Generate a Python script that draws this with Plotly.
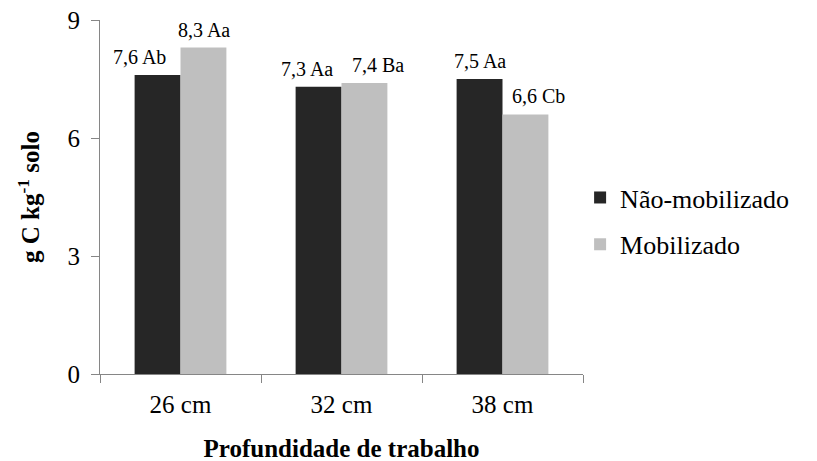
import plotly.graph_objects as go

categories = ["26 cm", "32 cm", "38 cm"]
nao_mobilizado = [7.6, 7.3, 7.5]
mobilizado = [8.3, 7.4, 6.6]
labels_nao = ["7,6 Ab", "7,3 Aa", "7,5 Aa"]
labels_mob = ["8,3 Aa", "7,4 Ba", "6,6 Cb"]
shift_nao = [-18, -12, 0]
shift_mob = [0, 13, 13]

FONT = "Liberation Serif"

fig = go.Figure()
fig.add_trace(go.Bar(x=categories, y=nao_mobilizado, name="Não-mobilizado",
                     marker=dict(color="#262626", line=dict(width=0)),
                     offsetgroup="a", legendgroup="a"))
fig.add_trace(go.Bar(x=categories, y=mobilizado, name="Mobilizado",
                     marker=dict(color="#bfbfbf", line=dict(width=0)),
                     offsetgroup="b", legendgroup="b"))

for i, c in enumerate(categories):
    fig.add_annotation(x=c, y=nao_mobilizado[i], text=labels_nao[i], showarrow=False,
                       xref="x", yref="y", yanchor="bottom", xanchor="center",
                       xshift=-23 + shift_nao[i], yshift=5,
                       font=dict(family=FONT, size=20, color="#000"))
    fig.add_annotation(x=c, y=mobilizado[i], text=labels_mob[i], showarrow=False,
                       xref="x", yref="y", yanchor="bottom", xanchor="center",
                       xshift=23 + shift_mob[i], yshift=5,
                       font=dict(family=FONT, size=20, color="#000"))

fig.update_layout(
    template="none",
    width=817, height=461,
    margin=dict(l=92, r=242, t=12, b=95, autoexpand=False),
    plot_bgcolor="white", paper_bgcolor="white",
    barmode="group", bargap=0.43, bargroupgap=0,
    font=dict(family=FONT, color="#000"),
    legend=dict(x=0.994, y=0.432, xanchor="left", yanchor="middle",
                font=dict(family=FONT, size=26, color="#000"), itemwidth=30,
                tracegroupgap=10, bgcolor="rgba(0,0,0,0)"),
    xaxis=dict(
        automargin=False,
        showline=True, linecolor="#868686", linewidth=1,
        ticks="outside", tickson="boundaries", ticklen=8, tickcolor="#868686",
        tickfont=dict(family=FONT, size=25, color="#000"),
        ticklabelstandoff=8,
        showgrid=False,
        title=dict(text="<b>Profundidade de trabalho</b>",
                   font=dict(family=FONT, size=25, color="#000"), standoff=22),
    ),
    yaxis=dict(
        automargin=False, ticklabeloverflow="allow",
        range=[0, 9], tickvals=[0, 3, 6, 9],
        showline=True, linecolor="#868686", linewidth=1,
        ticks="outside", ticklen=8, tickcolor="#868686",
        ticklabelstandoff=6,
        showgrid=False, zeroline=False,
        tickfont=dict(family=FONT, size=25, color="#000"),
        title=dict(text="<b>g C kg<sup>-1</sup> solo</b>",
                   font=dict(family=FONT, size=25, color="#000"), standoff=20),
    ),
)

fig.write_html("out.html")
